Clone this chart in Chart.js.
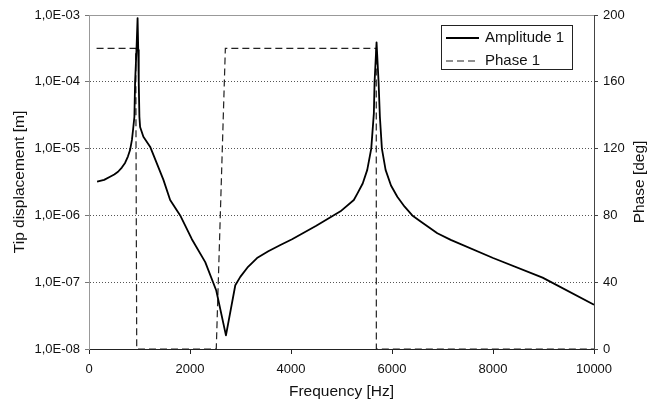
<!DOCTYPE html>
<html>
<head>
<meta charset="utf-8">
<script src="https://cdn.jsdelivr.net/npm/chart.js@4.4.1/dist/chart.umd.min.js"></script>
<style>
  html, body { margin: 0; padding: 0; background: #fff; }
  #wrap { width: 661px; height: 403px; }
</style>
</head>
<body>
<div id="wrap"><canvas id="chart" width="661" height="403"></canvas></div>
<script>
// amplitude curve
const ampFreq = [160, 300, 417, 500, 575, 650, 714, 770, 813, 850, 875, 899, 913, 940, 962, 975, 985, 998, 1012, 1077, 1210, 1474, 1607, 1806, 2037, 2302, 2520, 2712, 2897, 2996, 3150, 3327, 3550, 3790, 4021, 4500, 4980, 5244, 5311, 5420, 5510, 5589, 5641, 5655, 5694, 5734, 5760, 5800, 5873, 5980, 6105, 6250, 6402, 6567, 6898, 7163, 8002, 8982, 10000];
const ampValue = [3.2e-6, 3.4e-6, 3.8e-6, 4.1e-6, 4.5e-6, 5.2e-6, 6.1e-6, 7.6e-6, 9.5e-6, 1.35e-5, 2.0e-5, 3.0e-5, 1.0e-4, 3.0e-4, 9.0e-4, 3.0e-4, 1.0e-4, 3.0e-5, 2.1e-5, 1.5e-5, 1.07e-5, 3.4e-6, 1.7e-6, 1.0e-6, 4.4e-7, 2.0e-7, 7.5e-8, 1.6e-8, 9.0e-8, 1.2e-7, 1.7e-7, 2.3e-7, 2.9e-7, 3.6e-7, 4.4e-7, 7.0e-7, 1.15e-6, 1.7e-6, 2.1e-6, 3.0e-6, 4.8e-6, 1.0e-5, 3.4e-5, 1.0e-4, 3.9e-4, 1.0e-4, 3.0e-5, 1.0e-5, 4.8e-6, 2.8e-6, 1.9e-6, 1.35e-6, 1.0e-6, 8.1e-7, 5.4e-7, 4.3e-7, 2.3e-7, 1.17e-7, 4.6e-8];

// phase curve
const phaseFreq = [150, 925, 945, 2520, 2700, 5688, 5690, 10000];
const phaseValue = [180, 180, 0, 0, 180, 180, 0, 0];

// axes
const freqTicks = [0, 2000, 4000, 6000, 8000, 10000];
const ampTicks = [1e-8, 1e-7, 1e-6, 1e-5, 1e-4, 1e-3];
const ampTickLabels = ['1,0E-08', '1,0E-07', '1,0E-06', '1,0E-05', '1,0E-04', '1,0E-03'];
const phaseTicks = [0, 40, 80, 120, 160, 200];

const FONT = 'Liberation Sans, Arial, Helvetica, sans-serif';
const tickFont = { family: FONT, size: 13 };
const titleFont = { family: FONT, size: 15.5 };

const extras = {
    id: 'extras',
    beforeDatasetsDraw(chart) {
        const { ctx, chartArea: a } = chart;
        ctx.save();
        ctx.strokeStyle = '#999';
        ctx.lineWidth = 1;
        ctx.beginPath();
        ctx.moveTo(a.left, a.top + 0.5);
        ctx.lineTo(a.right, a.top + 0.5);
        ctx.stroke();
        ctx.restore();
    },
    afterDraw(chart) {
        const { ctx, chartArea: a } = chart;
        ctx.save();
        // right axis title, reads bottom to top like the left one
        ctx.fillStyle = '#111';
        ctx.font = '15.5px ' + FONT;
        ctx.textAlign = 'center';
        ctx.textBaseline = 'middle';
        ctx.translate(640, (a.top + a.bottom) / 2);
        ctx.rotate(-Math.PI / 2);
        ctx.fillText('Phase [deg]', 0, 0);
        ctx.restore();

        // legend box
        ctx.save();
        const bx = 441, by = 25, bw = 131, bh = 44;
        ctx.fillStyle = '#fff';
        ctx.fillRect(bx, by, bw, bh);
        ctx.strokeStyle = '#222';
        ctx.lineWidth = 1;
        ctx.strokeRect(bx + 0.5, by + 0.5, bw, bh);
        ctx.font = '15px ' + FONT;
        ctx.textBaseline = 'middle';
        ctx.textAlign = 'left';
        chart.data.datasets.forEach((ds, i) => {
            const y = by + 13 + i * 23;
            ctx.strokeStyle = ds.borderColor;
            ctx.lineWidth = ds.borderWidth;
            ctx.setLineDash(ds.borderDash || []);
            ctx.beginPath();
            ctx.moveTo(bx + 5, y);
            ctx.lineTo(bx + 38, y);
            ctx.stroke();
            ctx.setLineDash([]);
            ctx.fillStyle = '#111';
            ctx.fillText(ds.label, bx + 44, y);
        });
        ctx.restore();
    }
};

new Chart(document.getElementById('chart').getContext('2d'), {
    type: 'line',
    data: {
        datasets: [{
            label: 'Amplitude 1',
            data: ampFreq.map((f, i) => ({ x: f, y: ampValue[i] })),
            yAxisID: 'y',
            borderColor: '#000',
            borderWidth: 1.8,
            pointRadius: 0,
            tension: 0,
            borderJoinStyle: 'round',
            fill: false
        }, {
            label: 'Phase 1',
            data: phaseFreq.map((f, i) => ({ x: f, y: phaseValue[i] })),
            yAxisID: 'y2',
            borderColor: '#222',
            borderWidth: 1.2,
            borderDash: [7, 4],
            pointRadius: 0,
            tension: 0,
            fill: false
        }]
    },
    options: {
        responsive: false,
        animation: false,
        devicePixelRatio: 1,
        layout: { padding: { top: 15, left: 0, right: 0, bottom: 0 } },
        plugins: { legend: { display: false }, tooltip: { enabled: false } },
        scales: {
            x: {
                type: 'linear',
                min: 0,
                max: 10000,
                afterBuildTicks: s => { s.ticks = freqTicks.map(v => ({ value: v })); },
                afterFit: s => { s.height = 54; },
                grid: { drawOnChartArea: false, drawTicks: true, tickLength: 5, tickColor: '#222' },
                border: { color: '#222', width: 1 },
                ticks: { color: '#111', font: tickFont, padding: 8, maxRotation: 0, autoSkip: false, callback: v => String(v) },
                title: { display: true, text: 'Frequency [Hz]', color: '#111', font: titleFont, padding: { top: 0, bottom: 2 } }
            },
            y: {
                type: 'logarithmic',
                position: 'left',
                min: 1e-8,
                max: 1e-3,
                afterBuildTicks: s => { s.ticks = ampTicks.map(v => ({ value: v })); },
                afterFit: s => { s.width = 89; },
                grid: {
                    color: c => (c.index === 0 || c.index === ampTicks.length - 1) ? 'rgba(0,0,0,0)' : '#555',
                    lineWidth: 1,
                    drawTicks: true,
                    tickLength: 4,
                    tickColor: '#777'
                },
                border: { color: '#999', width: 1, dash: [1, 2] },
                ticks: {
                    color: '#111',
                    font: tickFont,
                    padding: 5,
                    autoSkip: false,
                    callback: (v, i) => ampTickLabels[i]
                },
                title: { display: true, text: 'Tip displacement [m]', color: '#111', font: titleFont, padding: { top: 10, bottom: 0 } }
            },
            y2: {
                type: 'linear',
                position: 'right',
                min: 0,
                max: 200,
                afterBuildTicks: s => { s.ticks = phaseTicks.map(v => ({ value: v })); },
                afterFit: s => { s.width = 67; },
                grid: { drawOnChartArea: false, drawTicks: true, tickLength: 4, tickColor: '#444' },
                border: { color: '#444', width: 1 },
                ticks: { color: '#111', font: tickFont, padding: 5, autoSkip: false }
            }
        }
    },
    plugins: [extras]
});
</script>
</body>
</html>
